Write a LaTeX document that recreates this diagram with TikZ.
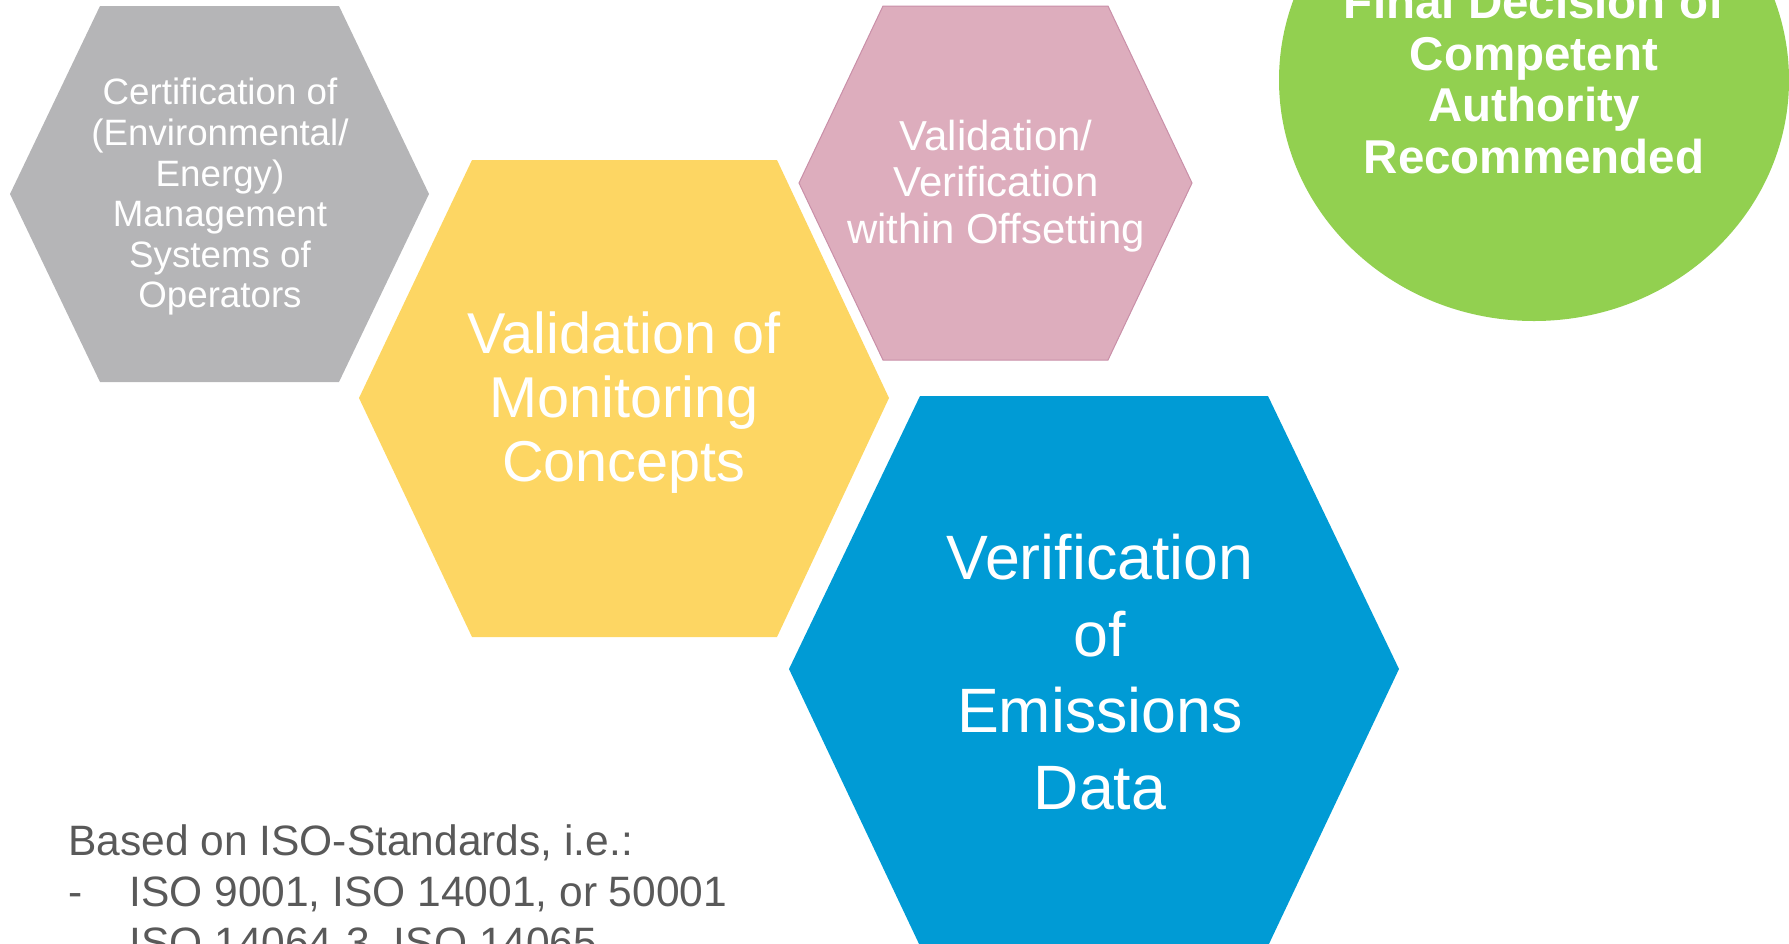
\documentclass[tikz,border=0pt]{standalone}
\usepackage{fontspec}
\setmainfont{Liberation Sans}
\definecolor{hexgray}{HTML}{B5B5B7}
\definecolor{hexyellow}{HTML}{FDD663}
\definecolor{hexpink}{HTML}{DDADBD}
\definecolor{pinkedge}{HTML}{C98FA8}
\definecolor{hexblue}{HTML}{009BD5}
\definecolor{leafgreen}{HTML}{92D050}
\definecolor{notegray}{HTML}{595959}

\begin{document}
\begin{tikzpicture}[x=0.5pt,y=-0.5pt,
	hexlabel/.style={text=white,align=center,inner sep=0pt},
	note/.style={text=notegray,anchor=base west,inner sep=0pt,
		font=\fontsize{21.25}{25.5}\selectfont}]
	\useasboundingbox (0,0) rectangle (1789,943);
	\clip (0,0) rectangle (1789,943);

	% hexagons
	\fill[hexgray] (100,6) -- (339,6) -- (429,194) -- (339,382) -- (100,382) -- (10,194) -- cycle;
	\fill[hexpink,draw=pinkedge,line width=0.5pt] (883,6) -- (1108,6) -- (1192,183) -- (1108,360) -- (883,360) -- (799,183) -- cycle;
	\fill[hexyellow] (472,160) -- (777,160) -- (889,398) -- (777,637) -- (472,637) -- (359,398) -- cycle;
	\fill[hexblue] (920,396) -- (1268,396) -- (1399,669) -- (1268,946) -- (920,946) -- (789,669) -- cycle;
	% circle
	\fill[leafgreen] (1534,80) ellipse [x radius=255,y radius=241];

	\node[hexlabel,font=\fontsize{18.35}{20.3}\selectfont] (cert) at (220,197)
		{Certification of\\(Environmental/\\Energy)\\Management\\Systems of\\Operators};
	\node[hexlabel,font=\fontsize{20.95}{23.25}\selectfont] (offset) at (996,186)
		{Validation/\\Verification\\within Offsetting};
	\node[hexlabel,font=\fontsize{28.8}{32}\selectfont] (concepts) at (624,403)
		{Validation of\\Monitoring\\Concepts};
	\node[hexlabel,font=\fontsize{31.35}{38.35}\selectfont] (emissions) at (1100,672)
		{Verification\\of\\Emissions\\Data};
	\node[hexlabel,font=\bfseries\fontsize{23.75}{25.75}\selectfont] (decision) at (1534,79)
		{Final Decision of\\Competent\\Authority\\Recommended};

	% standards
	\node[note] (based) at (68,855) {Based on ISO-Standards, i.e.:};
	\node[note] (dash) at (68,906) {-};
	\node[note] (iso1) at (129,906) {ISO 9001, ISO 14001, or 50001};
	\node[note] (iso2) at (129,957) {ISO 14064-3, ISO 14065};
\end{tikzpicture}
\end{document}
